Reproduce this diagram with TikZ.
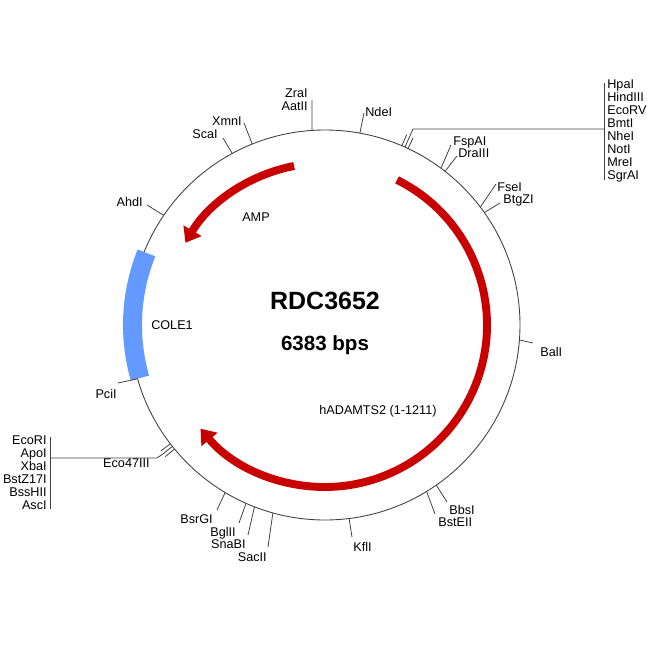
\documentclass[tikz,border=0pt]{standalone}
\usepackage{fontspec}
\setmainfont{Liberation Sans}
\usepackage{tikz}
\usetikzlibrary{arrows.meta}
\definecolor{featred}{RGB}{200,0,0}
\definecolor{oriblue}{RGB}{100,153,255}
\tikzstyle{backbone}      = [draw=black!75, line width=0.5pt]
\tikzstyle{leader}        = [draw=black!75, line width=0.45pt]
\tikzstyle{site label}    = [inner sep=0pt, font=\fontsize{7.2}{7.4}\selectfont, text height=0.72em, text depth=0pt]
\tikzstyle{site list}     = [inner sep=0pt, font=\fontsize{7.2}{7.4}\selectfont]
\tikzstyle{feature arrow} = [draw=featred, line width=4.5pt, -{Triangle[length=8pt, width=11.5pt]}]

\begin{document}
\begin{tikzpicture}[x=0.02cm, y=0.02cm]
    \useasboundingbox (-325,-325) rectangle (325,325);

    % Backbone
    \draw[backbone] (0,0) circle[radius=195];

    % COLE1 origin
    \draw[draw=oriblue, line width=10.8pt] (158:192.5) arc[start angle=158, end angle=196, radius=192.5];

    % AMP and hADAMTS2 features
    \draw[feature arrow] (101:162) arc[start angle=101, end angle=149.5, radius=162];
    \draw[feature arrow] (63.6:162) arc[start angle=63.6, end angle=-140.2, radius=162];

    % Site ticks (site / angle / leader end)
    \foreach \name/\ang/\ex/\ey in {zra/93.8/-13/225, nde/79.7/39/212, xmn/111.9/-81/202,
            sca/118.4/-102/187, ahd/145.8/-178/120, fsp/53.5/126/180, dra/52/132/169,
            fse/37.2/171/141, btg/35.2/175/122, bal/-4.4/208/-18, bbs/-55.2/122/-177,
            bst/-58.6/110/-189, kfl/-82.9/27/-212, sac/254.5/-57/-222, sna/248.8/-77/-210,
            bgl/246.1/-86/-198, bsr/239.2/-108/-185, pci/196/-207/-58}{
        \coordinate (\name) at (\ang:195);
        \coordinate (\name-end) at (\ex,\ey);
        \draw[leader] (\name) -- (\name-end);
    }

    % Site labels
    \node[site list, align=right, anchor=east] (zraL) at (-17,225) {ZraI\\AatII};
    \node[site label, anchor=west] (ndeL) at (40,215) {NdeI};
    \node[site label, anchor=east] (xmnL) at (-83,206) {XmnI};
    \node[site label, anchor=east] (scaL) at (-107,193) {ScaI};
    \node[site label, anchor=east] (ahdL) at (-182,125) {AhdI};
    \node[site label, anchor=west] (fspL) at (128,186) {FspAI};
    \node[site label, anchor=west] (draL) at (133,174) {DraIII};
    \node[site label, anchor=west] (fseL) at (172,140) {FseI};
    \node[site label, anchor=west] (btgL) at (178,128) {BtgZI};
    \node[site label, anchor=west] (balL) at (215,-25) {BalI};
    \node[site label, anchor=west] (bbsL) at (124,-183) {BbsI};
    \node[site label, anchor=west] (bstL) at (113,-195) {BstEII};
    \node[site label, anchor=west] (kflL) at (28,-220) {KflI};
    \node[site label, anchor=east] (sacL) at (-58,-230) {SacII};
    \node[site label, anchor=east] (snaL) at (-79,-217) {SnaBI};
    \node[site label, anchor=east] (bglL) at (-89,-205) {BglII};
    \node[site label, anchor=east] (bsrL) at (-112,-192) {BsrGI};
    \node[site label, anchor=east] (pciL) at (-208,-67) {PciI};

    % Multiple cut sites, upper right
    \foreach \i/\ang in {1/64.8, 2/65.8, 3/66.8}{
        \coordinate (hpa\i) at (\ang:195);
        \coordinate (hpa\i t) at (\ang:207);
        \draw[leader] (hpa\i) -- (hpa\i t);
    }
    \coordinate (hpaJ) at (88,196);
    \coordinate (hpaK) at (279,196);
    \coordinate (hpaTop) at (279,242);
    \coordinate (hpaBot) at (279,145);
    \draw[leader] (hpa2t) -- (hpaJ) -- (hpaK);
    \draw[leader] (hpaTop) -- (hpaBot);
    \node[site list, align=left, anchor=west] (hpaL) at (282,194)
        {HpaI\\HindIII\\EcoRV\\BmtI\\NheI\\NotI\\MreI\\SgrAI};

    % Multiple cut sites, lower left
    \foreach \i/\ang in {1/217.5, 2/218.5, 3/219.5}{
        \coordinate (eco\i) at (\ang:195);
        \coordinate (eco\i t) at (\ang:207);
        \draw[leader] (eco\i) -- (eco\i t);
    }
    \coordinate (ecoJ) at (-168,-133);
    \coordinate (ecoK) at (-275,-133);
    \coordinate (ecoTop) at (-275,-112);
    \coordinate (ecoBot) at (-275,-184);
    \draw[leader] (eco2t) -- (ecoJ) -- (ecoK);
    \draw[leader] (ecoTop) -- (ecoBot);
    \node[site list, align=right, anchor=east] (ecoL) at (-278,-147.5)
        {EcoRI\\ApoI\\XbaI\\BstZ17I\\BssHII\\AscI};
    \node[site label, anchor=east] (eco47L) at (-175,-136) {Eco47III};

    % Feature names
    \node[site label] (ampL) at (-69,110) {AMP};
    \node[site label] (coleL) at (-153,2) {COLE1};
    \node[site label] (adamL) at (53,-83) {hADAMTS2 (1-1211)};

    % Map name and size
    \node[font=\bfseries\fontsize{14.2}{16}\selectfont, text height=0.72em, text depth=0pt, inner sep=0pt] (title) at (0,22) {RDC3652};
    \node[font=\bfseries\fontsize{11.7}{14}\selectfont, text height=0.72em, text depth=0pt, inner sep=0pt] (size) at (0,-19) {6383 bps};

\end{tikzpicture}
\end{document}
